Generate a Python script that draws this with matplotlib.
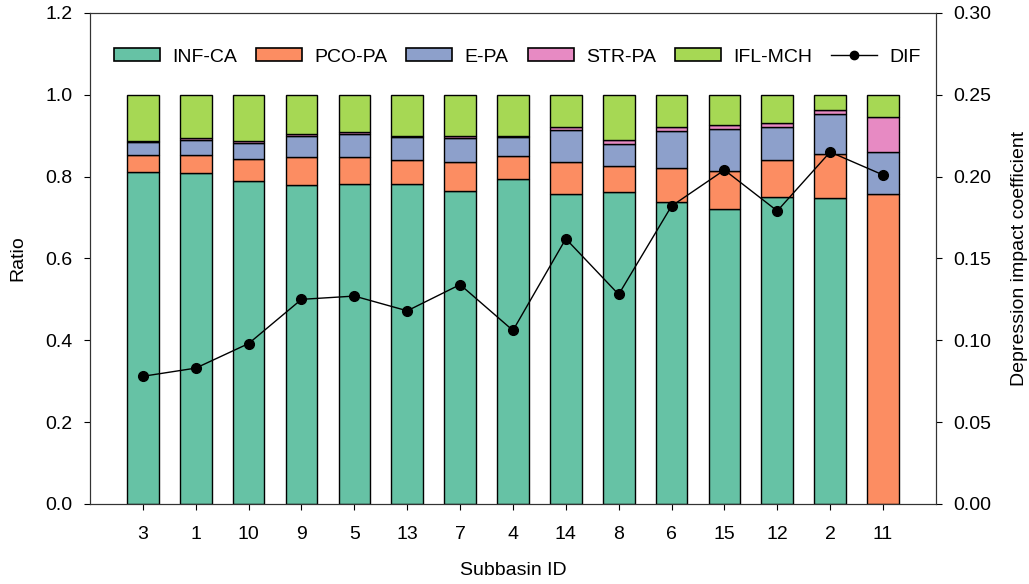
import numpy as np
import matplotlib
matplotlib.use('Agg')
import matplotlib.pyplot as plt
from matplotlib.patches import Patch
from matplotlib.lines import Line2D

plt.rcParams['font.family'] = ['Liberation Sans Narrow', 'Liberation Sans', 'DejaVu Sans']
plt.rcParams['font.size'] = 14

#%% Data %%#
subbasin = ['3', '1', '10', '9', '5', '13', '7', '4', '14', '8', '6', '15', '12', '2', '11']
inf_ca  = [0.810, 0.808, 0.789, 0.780, 0.781, 0.783, 0.765, 0.794, 0.758, 0.762, 0.739, 0.720, 0.751, 0.747, 0.000]
pco_pa  = [0.042, 0.045, 0.054, 0.067, 0.067, 0.058, 0.070, 0.057, 0.077, 0.063, 0.083, 0.094, 0.090, 0.109, 0.757]
e_pa    = [0.032, 0.037, 0.039, 0.053, 0.055, 0.056, 0.059, 0.045, 0.078, 0.055, 0.090, 0.103, 0.080, 0.097, 0.102]
str_pa  = [0.004, 0.004, 0.006, 0.004, 0.006, 0.003, 0.005, 0.004, 0.007, 0.010, 0.009, 0.009, 0.009, 0.010, 0.086]
ifl_mch = [0.112, 0.106, 0.112, 0.096, 0.091, 0.100, 0.101, 0.100, 0.080, 0.110, 0.079, 0.074, 0.070, 0.037, 0.055]
dif     = [0.078, 0.083, 0.098, 0.125, 0.127, 0.118, 0.134, 0.106, 0.162, 0.128, 0.182, 0.204, 0.179, 0.215, 0.201]

names = ['INF-CA', 'PCO-PA', 'E-PA', 'STR-PA', 'IFL-MCH']
colors = ['#66c2a5', '#fc8d62', '#8da0cb', '#e78ac3', '#a6d854']
series = [inf_ca, pco_pa, e_pa, str_pa, ifl_mch]

x = np.arange(len(subbasin))

fig = plt.figure(figsize=(10.29, 5.84), dpi=100)
ax = fig.add_axes([0.0875, 0.137, 0.822, 0.841])

bottom = np.zeros(len(subbasin))
for vals, c in zip(series, colors):
    ax.bar(x, vals, 0.6, bottom=bottom, color=c, edgecolor='black', linewidth=1)
    bottom = bottom + np.array(vals)

ax.set_xlim(-1, 15)
ax.set_ylim(0, 1.2)
ax.set_yticks(np.arange(0, 1.21, 0.2))
ax.set_yticklabels(['%.1f' % v for v in np.arange(0, 1.21, 0.2)])
ax.set_xticks(x)
ax.set_xticklabels(subbasin)
ax.tick_params(axis='x', length=4.5, pad=11)
ax.tick_params(axis='y', length=4.5, pad=8)
ax.set_xlabel('Subbasin ID', labelpad=14)
ax.set_ylabel('Ratio', labelpad=14)
for s in ax.spines.values():
    s.set_color('#333333')

ax2 = ax.twinx()
ax2.plot(x, dif, color='black', linewidth=1, marker='o', markersize=7)
ax2.set_ylim(0, 0.30)
ax2.set_yticks(np.arange(0, 0.301, 0.05))
ax2.set_yticklabels(['%.2f' % v for v in np.arange(0, 0.301, 0.05)])
ax2.tick_params(axis='y', length=4.5, pad=8)
ax2.set_ylabel('Depression impact coefficient', labelpad=14)
for s in ax2.spines.values():
    s.set_color('#333333')

handles = [Patch(facecolor=c, edgecolor='black', linewidth=1.2, label=n) for n, c in zip(names, colors)]
handles.append(Line2D([], [], color='black', linewidth=1, marker='o', markersize=6, label='DIF'))
ax.legend(handles=handles, loc='center', bbox_to_anchor=(0.505, 0.91), ncol=6, frameon=False,
          handlelength=2.37, handleheight=0.62, columnspacing=0.98, handletextpad=0.62)

plt.savefig('out.png', dpi=100)
